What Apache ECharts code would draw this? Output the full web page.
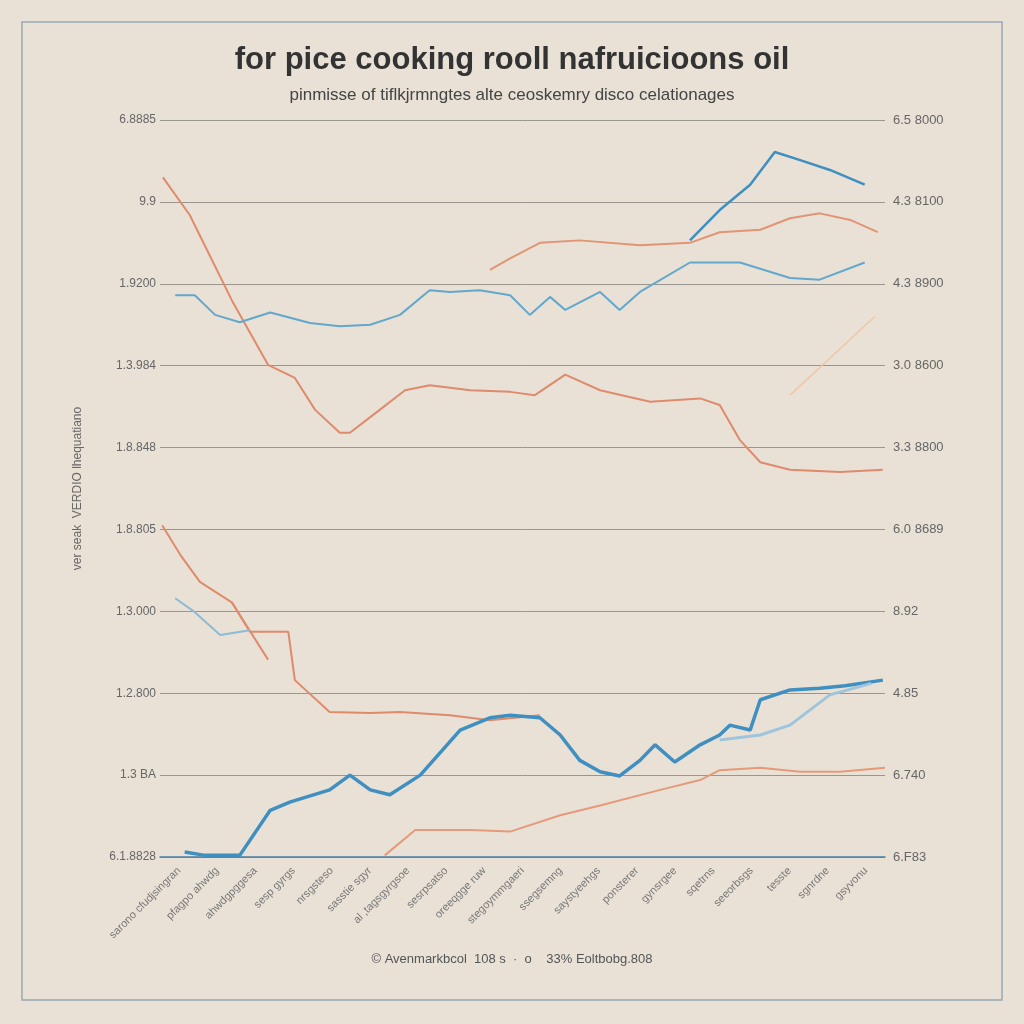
<!DOCTYPE html>
<html><head><meta charset="utf-8">
<script src="https://cdn.jsdelivr.net/npm/echarts@6/dist/echarts.min.js"></script>
<style>html,body{margin:0;padding:0;background:#e9e1d6}#c{width:1024px;height:1024px}</style>
</head><body><div id="c"></div>
<script>
const titleText = 'for pice cooking rooll nafruicioons oil';
const subtitleText = 'pinmisse of tiflkjrmngtes alte ceoskemry disco celationages';
const footerText = '\u00A9 Avenmarkbcol  108 s  \u00B7  o    33% Eoltbobg.808';
const yAxisName = 'ver seak  VERDIO lhequatiano';
const leftTicks = ['6.1.8828','1.3 BA','1.2.800','1.3.000','1.8.805','1.8.848','1.3.984','1.9200','9.9','6.8885'];
const rightTicks = ['6.F83','6.740','4.85','8.92','6.0 8689','3.3 8800','3.0 8600','4.3 8900','4.3 8100','6.5 8000'];
const xCats = ['sarono cfudjsingran','pfagpo ahwdg','ahwdgpggesa','sesp gyrgs','nrsgsteso','sasstie sgyr','al ,tagsgyrgsoe','sesrpsatso','oreeqgge ruw','stegoymmgaeri','ssegsemng','saystyeehgs','ponsterer','gynsrgee','sqetrns','seeorbsgs','tesste','sgnrdne','gsyvonu'];

// series: x positions (0..100) and values (0..9)
const orangeA_x = [0.4,4.1,9.9,14.9,18.6,21.4,24.8,26.2,30.3,33.8,37.2,42.8,48.3,51.7,55.9,60.7,67.6,74.5,77.2,80.0,82.8,86.9,93.8,99.7];
const orangeA_y = [8.30,7.84,6.80,6.01,5.85,5.46,5.18,5.18,5.46,5.70,5.76,5.70,5.68,5.64,5.89,5.70,5.56,5.60,5.52,5.09,4.82,4.73,4.70,4.73];
const orangeB_x = [45.5,48.3,52.4,57.9,66.2,73.1,77.2,82.8,86.9,91.0,95.2,99.0];
const orangeB_y = [7.17,7.31,7.50,7.53,7.47,7.50,7.63,7.66,7.80,7.86,7.78,7.63];
const orangeF_x = [86.9,98.6];
const orangeF_y = [5.64,6.60];
const blueA_x = [2.1,4.8,7.6,11.0,15.2,20.7,24.8,29.0,33.1,37.2,40.0,44.1,48.3,51.0,53.8,55.9,60.7,63.4,66.2,73.1,80.0,86.9,91.0,97.2];
const blueA_y = [6.86,6.86,6.62,6.53,6.65,6.52,6.48,6.50,6.62,6.92,6.90,6.92,6.86,6.62,6.84,6.68,6.90,6.68,6.90,7.26,7.26,7.07,7.05,7.26];
const blueB_x = [73.1,77.2,81.4,84.8,88.3,92.4,97.2];
const blueB_y = [7.53,7.90,8.21,8.61,8.51,8.39,8.21];
const orangeC_x = [0.3,2.8,5.5,9.9,12.4,17.7,18.6,23.4,29.0,33.1,40.0,45.5,52.4];
const orangeC_y = [4.05,3.69,3.36,3.11,2.75,2.75,2.16,1.77,1.76,1.77,1.73,1.67,1.73];
const orangeE_x = [9.9,14.9];
const orangeE_y = [3.11,2.41];
const orangeD_x = [31.0,35.2,42.8,48.3,55.2,60.7,69.0,74.5,77.2,82.8,88.3,93.8,100];
const orangeD_y = [0.02,0.33,0.33,0.31,0.51,0.63,0.82,0.94,1.06,1.09,1.04,1.04,1.09];
const blueC_x = [2.1,4.8,8.3,12.4];
const blueC_y = [3.16,2.99,2.71,2.77];
const blueD_x = [3.4,6.2,11.0,15.2,17.9,23.4,26.2,29.0,31.7,35.9,41.4,45.5,48.3,52.4,55.2,57.9,60.7,63.4,66.2,68.3,71.0,74.5,77.2,78.6,81.4,82.8,86.9,91.0,94.5,99.7];
const blueD_y = [0.06,0.02,0.02,0.57,0.67,0.82,1.00,0.82,0.76,1.00,1.55,1.70,1.73,1.70,1.49,1.18,1.04,0.99,1.18,1.37,1.16,1.37,1.49,1.61,1.55,1.92,2.04,2.06,2.09,2.16];
const blueE_x = [77.2,82.8,86.9,92.4,98.1];
const blueE_y = [1.43,1.49,1.61,1.98,2.12];

const zip = (xs, ys) => xs.map((x, i) => [x, ys[i]]);
function line(xs, ys, color, width, opacity) {
  return { type: 'line', xAxisIndex: 0, yAxisIndex: 0, data: zip(xs, ys), symbol: 'none', smooth: false,
    lineStyle: { color: color, width: width, opacity: opacity == null ? 1 : opacity }, z: 3 };
}
const chart = echarts.init(document.getElementById('c'));
chart.setOption({
  backgroundColor: '#e9e1d6',
  animation: false,
  title: [
    { text: titleText, left: 'center', top: 40, textStyle: { fontFamily: 'Liberation Sans, Arial', fontSize: 31, fontWeight: 'bold', color: '#333' } },
    { text: subtitleText, left: 'center', top: 82, textStyle: { fontFamily: 'Liberation Sans, Arial', fontSize: 17, fontWeight: 'normal', color: '#444' } },
    { text: footerText, left: 'center', top: 948, textStyle: { fontFamily: 'Liberation Sans, Arial', fontSize: 13, fontWeight: 'normal', color: '#555' } }
  ],
  graphic: [
    { type: 'rect', shape: { x: 22, y: 22, width: 980, height: 978 }, style: { fill: 'none', stroke: '#9aa8b5', lineWidth: 1.5 } }
  ],
  grid: { left: 160, right: 139, top: 120, bottom: 167 },
  xAxis: [
    { type: 'value', min: 0, max: 100, show: false },
    { type: 'category', data: xCats, position: 'bottom', boundaryGap: true,
      axisLine: { show: true, lineStyle: { color: '#4a7fa5', width: 1.5 } },
      axisTick: { show: false },
      axisLabel: { rotate: 45, fontSize: 11, color: '#777', interval: 0, margin: 12, fontFamily: 'Liberation Sans' } }
  ],
  yAxis: [
    { type: 'value', min: 0, max: 9, interval: 1, position: 'left',
      name: yAxisName, nameLocation: 'middle', nameRotate: 90, nameGap: 76,
      nameTextStyle: { color: '#666', fontSize: 12, fontFamily: 'Liberation Sans' },
      axisLine: { show: false }, axisTick: { show: false },
      axisLabel: { color: '#666', fontSize: 12, margin: 4, fontFamily: 'Liberation Sans', formatter: v => leftTicks[Math.round(v)] },
      splitLine: { lineStyle: { color: '#9a968f', width: 1 } } },
    { type: 'value', min: 0, max: 9, interval: 1, position: 'right',
      axisLine: { show: false }, axisTick: { show: false },
      axisLabel: { color: '#666', fontSize: 13, margin: 8, fontFamily: 'Liberation Sans', formatter: v => rightTicks[Math.round(v)] },
      splitLine: { show: false } }
  ],
  series: [
    line(orangeA_x, orangeA_y, '#e08a6c', 2),
    line(orangeB_x, orangeB_y, '#e39475', 2),
    line(orangeF_x, orangeF_y, '#f0c4a0', 1.5, 0.9),
    line(blueA_x, blueA_y, '#62a7cc', 2),
    line(blueB_x, blueB_y, '#3f8fc0', 2.5),
    line(orangeC_x, orangeC_y, '#e08a6c', 2),
    line(orangeE_x, orangeE_y, '#e08a6c', 2),
    line(orangeD_x, orangeD_y, '#e59a7a', 2),
    line(blueC_x, blueC_y, '#8dbad5', 2),
    line(blueD_x, blueD_y, '#3f8fc0', 3.5),
    line(blueE_x, blueE_y, '#9ec5dc', 3)
  ]
});
</script></body></html>
